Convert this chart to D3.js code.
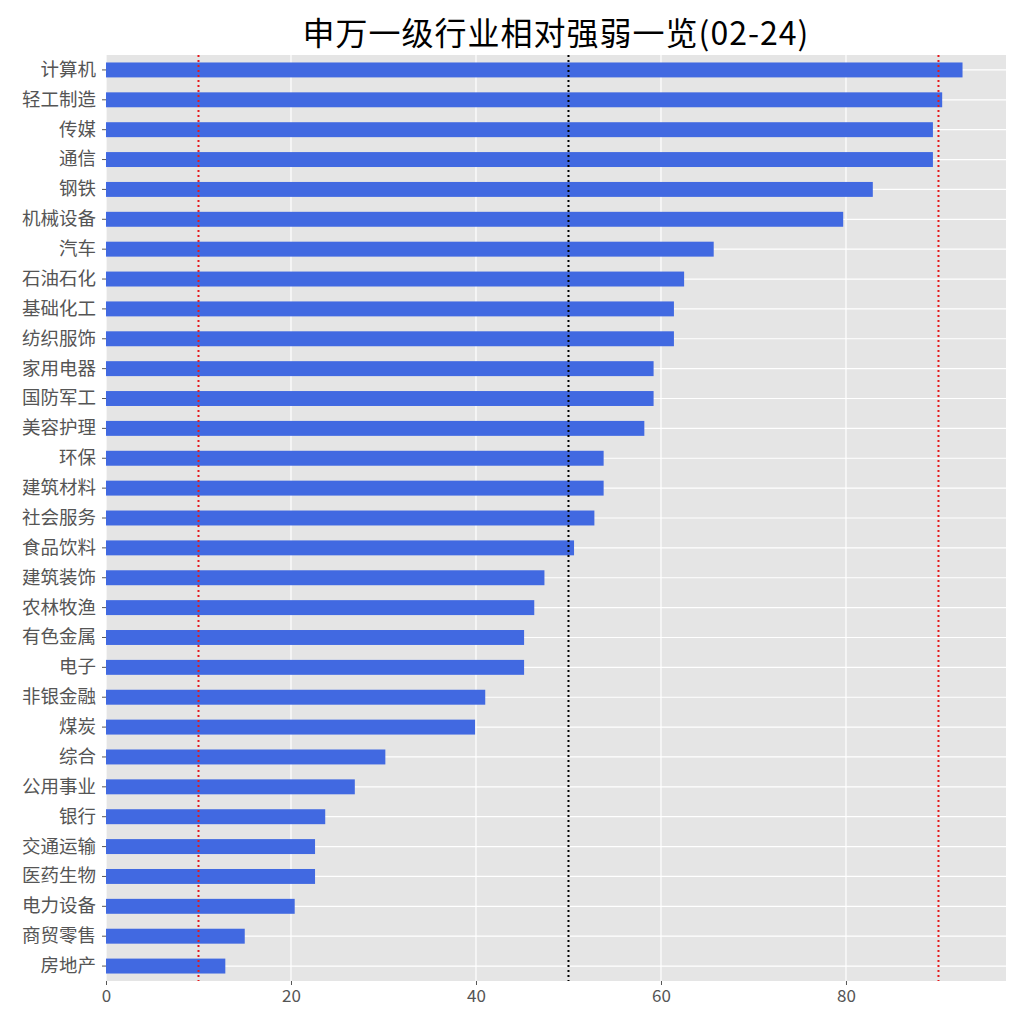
<!DOCTYPE html>
<html><head><meta charset="utf-8">
<script src="https://cdn.jsdelivr.net/npm/d3@7"></script>
<style>body{margin:0;background:#fff}</style>
</head><body><svg id="c" width="1024" height="1024"></svg>
<script>
const categories = ["计算机","轻工制造","传媒","通信","钢铁","机械设备","汽车","石油石化","基础化工","纺织服饰","家用电器","国防军工","美容护理","环保","建筑材料","社会服务","食品饮料","建筑装饰","农林牧渔","有色金属","电子","非银金融","煤炭","综合","公用事业","银行","交通运输","医药生物","电力设备","商贸零售","房地产"];
const values = [92.6,90.4,89.4,89.4,82.9,79.7,65.7,62.5,61.4,61.4,59.2,59.2,58.2,53.8,53.8,52.8,50.6,47.4,46.3,45.2,45.2,41.0,39.9,30.2,26.9,23.7,22.6,22.6,20.4,15.0,12.9];
const xTicks = [0,20,40,60,80];
const refLines = [{v:10,c:"#e41a1c"},{v:50,c:"#000"},{v:90,c:"#e41a1c"}];
const title = "申万一级行业相对强弱一览(02-24)";

const font = "'Noto Sans CJK SC', sans-serif";
const L=106,R=1006,T=55,B=981;
const svg = d3.select("#c");
const x = d3.scaleLinear().domain([0,97.3]).range([L,R]);
const y = d3.scaleBand().domain(categories).range([T,B]).paddingInner(0).paddingOuter(0);

svg.append("rect").attr("x",L).attr("y",T).attr("width",R-L).attr("height",B-T).attr("fill","#e5e5e5");
// grid
svg.append("g").selectAll("line").data(xTicks).join("line")
  .attr("x1",d=>x(d)).attr("x2",d=>x(d)).attr("y1",T).attr("y2",B)
  .attr("stroke","#fff").attr("stroke-width",1.2);
svg.append("g").selectAll("line").data(categories).join("line")
  .attr("x1",L).attr("x2",R).attr("y1",d=>y(d)+y.bandwidth()/2).attr("y2",d=>y(d)+y.bandwidth()/2)
  .attr("stroke","#fff").attr("stroke-width",1.2);
// bars
const bh = y.bandwidth()*0.5;
svg.append("g").selectAll("rect").data(categories).join("rect")
  .attr("x",x(0)).attr("y",d=>y(d)+y.bandwidth()/2-bh/2)
  .attr("width",(d,i)=>x(values[i])-x(0)).attr("height",bh)
  .attr("fill","#4169e1");
// ref lines
svg.append("g").selectAll("line").data(refLines).join("line")
  .attr("x1",d=>x(d.v)).attr("x2",d=>x(d.v)).attr("y1",T).attr("y2",B)
  .attr("stroke",d=>d.c).attr("stroke-width",2).attr("stroke-dasharray","2,3");
// y axis
const ya = svg.append("g").attr("transform",`translate(${L},0)`)
  .call(d3.axisLeft(y).tickSize(4).tickPadding(6));
ya.select(".domain").remove();
ya.selectAll("line").attr("stroke","#555");
ya.selectAll("text").attr("fill","#555").style("font-family",font).style("font-size","18.5px");
// x axis
const xa = svg.append("g").attr("transform",`translate(0,${B})`)
  .call(d3.axisBottom(x).tickValues(xTicks).tickSize(4).tickPadding(5).tickFormat(d3.format("d")));
xa.select(".domain").remove();
xa.selectAll("line").attr("stroke","#555");
xa.selectAll("text").attr("fill","#555").style("font-family",font).style("font-size","17px");
// title
svg.append("text").attr("x",(L+R)/2).attr("y",45).attr("text-anchor","middle")
  .style("font-family",font).style("font-size","32px").style("letter-spacing","1px").attr("fill","#000").text(title);
</script></body></html>
